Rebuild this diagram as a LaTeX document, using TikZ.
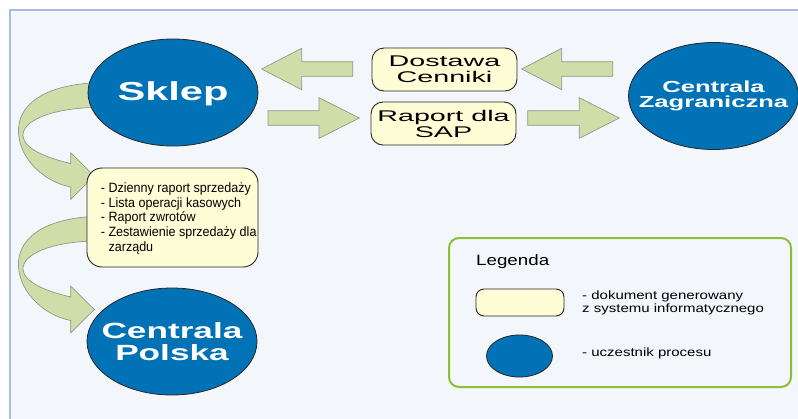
\documentclass[tikz,border=0pt]{standalone}
\usepackage{fontspec}
\setmainfont{Liberation Sans}
\newfontfamily\titlefont[FakeStretch=1.6]{Liberation Sans}
\newfontfamily\boxfont[FakeStretch=1.85]{Liberation Sans}
\newfontfamily\legfont[FakeStretch=1.25]{Liberation Sans}
\newfontfamily\listfont[FakeStretch=0.93]{Liberation Sans}
\usetikzlibrary{shapes.geometric}
\definecolor{bgfill}{HTML}{F3F6FB}
\definecolor{bgborder}{HTML}{A8BCDF}
\definecolor{partblue}{HTML}{0072B5}
\definecolor{docyellow}{HTML}{FFFDD6}
\definecolor{arrowgreen}{HTML}{CFDEA9}
\definecolor{arrowgray}{HTML}{8E9A8A}
\definecolor{legendgreen}{HTML}{8CC034}
\begin{document}
\begin{tikzpicture}[x=1pt,y=-1pt,
  participant/.style={ellipse, draw=black!85, line width=0.8pt, fill=partblue,
    inner sep=0pt, minimum width=170pt, minimum height=107pt},
  parttext/.style={inner sep=0pt, text=white, align=center},
  docbox/.style={rounded corners=12pt, draw=black!85, line width=0.9pt, fill=docyellow,
    inner sep=0pt, align=center},
  blockarrow/.style={fill=arrowgreen, draw=arrowgray, line width=0.7pt, line join=miter},
  plain/.style={inner sep=0pt, align=left},
]
% canvas
\useasboundingbox (0,0) rectangle (798,418);
\fill[white] (0,0) rectangle (798,418);
\fill[bgfill] (9,9) rectangle (800,420);
\draw[bgborder, line width=2pt] (9.5,420) -- (9.5,9.5) -- (800,9.5);

% curved arrows (Sklep -> list, list -> Centrala Polska)
\foreach \dy in {0,133.5}{
\begin{scope}[shift={(0,\dy)}]
\draw[blockarrow] (92,83) .. controls (42,86) and (17,106) .. (18.5,133)
  .. controls (20,160) and (45,182) .. (70.7,187) -- (70.7,199.3) -- (94.3,176)
  -- (70.7,152.7) -- (70.7,163.5) .. controls (47,158) and (24,149) .. (23,136)
  .. controls (22,121) and (50,109) .. (92,107.5) -- cycle;
\end{scope}}

% straight block arrows
\draw[blockarrow] (352.7,61.7) -- (301.7,61.7) -- (301.7,48.3) -- (261.7,69)
  -- (301.7,89.7) -- (301.7,76.3) -- (352.7,76.3) -- cycle;
\draw[blockarrow] (268,110.7) -- (319,110.7) -- (319,97.7) -- (359.3,118)
  -- (319,138.3) -- (319,125.3) -- (268,125.3) -- cycle;
\draw[blockarrow] (612.7,61.7) -- (561.7,61.7) -- (561.7,48.3) -- (521.7,69)
  -- (561.7,89.7) -- (561.7,76.3) -- (612.7,76.3) -- cycle;
\draw[blockarrow] (527.7,110.7) -- (579.3,110.7) -- (579.3,97.7) -- (619.3,118)
  -- (579.3,138.3) -- (579.3,125.3) -- (527.7,125.3) -- cycle;

% participants
\node[participant] (sklep) at (173,92.5) {};
\node[parttext, font={\titlefont\bfseries\fontsize{26}{28}\selectfont}] (skleptxt) at ([yshift=-1pt]sklep.center) {Sklep};
\node[participant] (zagr) at (713.5,96) {};
\node[parttext, font={\titlefont\bfseries\fontsize{16}{15.5}\selectfont}] (zagrtxt) at (zagr.center) {Centrala\\Zagraniczna};
\node[participant] (polska) at (172,341.5) {};
\node[parttext, font={\titlefont\bfseries\fontsize{22}{21.5}\selectfont}] (polskatxt) at (polska.center) {Centrala\\Polska};

% documents
\node[docbox, minimum width=145pt, minimum height=43pt, font={\boxfont\fontsize{15.5}{16}\selectfont}] (dostawa) at (444.5,69.5) {Dostawa\\Cenniki};
\node[docbox, minimum width=145pt, minimum height=43pt, font={\boxfont\fontsize{15.5}{16}\selectfont}] (raport) at (443.5,123.5) {Raport dla\\SAP};
\node[docbox, rounded corners=15pt, minimum width=171pt, minimum height=99pt] (lista) at (172.5,217.5) {};
\node[plain, anchor=west, font={\listfont\fontsize{13.5}{14.8}\selectfont}] (listatxt) at (100.7,218.5)
  {- Dzienny raport sprzedaży\\- Lista operacji kasowych\\- Raport zwrotów\\- Zestawienie sprzedaży dla\\\phantom{- }zarządu};

% legend
\node[draw=legendgreen, line width=2pt, rounded corners=10pt, minimum width=342pt, minimum height=149pt, inner sep=0pt] (legend) at (620,312.5) {};
\node[plain, anchor=west, font={\legfont\fontsize{15}{17}\selectfont}] (legtitle) at (476,262) {Legenda};
\node[docbox, rounded corners=8pt, minimum width=88pt, minimum height=27pt] (legdoc) at (520,302.5) {};
\node[participant, minimum width=66pt, minimum height=42pt] (legpart) at (519.5,356) {};
\node[plain, anchor=west, font={\legfont\fontsize{12}{13}\selectfont}] (legdoctxt) at (582,302.5) {- dokument generowany\\z systemu informatycznego};
\node[plain, anchor=west, font={\legfont\fontsize{12}{13}\selectfont}] (legparttxt) at (582,353) {- uczestnik procesu};
\end{tikzpicture}
\end{document}
